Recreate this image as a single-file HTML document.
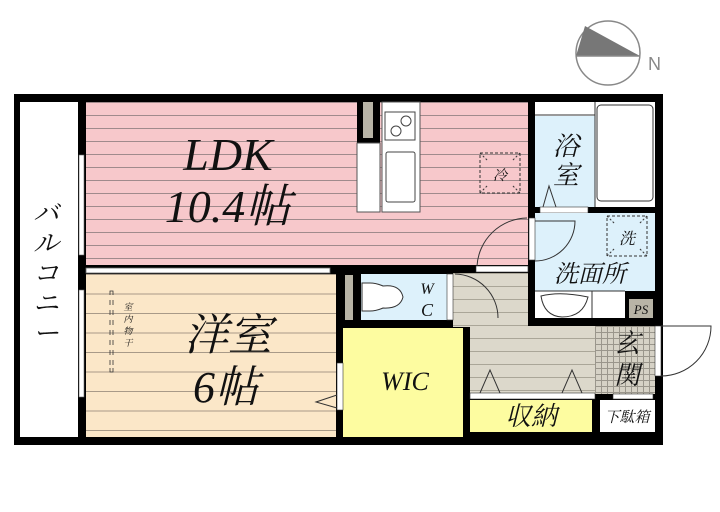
<!DOCTYPE html>
<html><head><meta charset="utf-8"><style>
html,body{margin:0;padding:0;background:#fff;}
svg{display:block;}
text{font-family:"Liberation Serif","Noto Serif CJK SC",serif;font-style:italic;fill:#111;}
</style></head><body>
<svg width="720" height="512" viewBox="0 0 720 512" xmlns="http://www.w3.org/2000/svg">
<defs>
<pattern id="ldk" x="0" y="102" width="10" height="13" patternUnits="userSpaceOnUse"><rect width="10" height="13" fill="#f7c8cb"/><line x1="0" y1="0.5" x2="10" y2="0.5" stroke="#a08a8c" stroke-width="1"/></pattern>
<pattern id="yo" x="0" y="274" width="10" height="19.5" patternUnits="userSpaceOnUse"><rect width="10" height="19.5" fill="#fbe7c8"/><line x1="0" y1="0.5" x2="10" y2="0.5" stroke="#a89a88" stroke-width="1"/></pattern>
<pattern id="hall" x="0" y="273" width="10" height="13" patternUnits="userSpaceOnUse"><rect width="10" height="13" fill="#dcd8cb"/><line x1="0" y1="0.5" x2="10" y2="0.5" stroke="#aaa698" stroke-width="1"/></pattern>
<pattern id="tile" x="595" y="326" width="6" height="6" patternUnits="userSpaceOnUse"><rect width="6" height="6" fill="#d6d2c6"/><path d="M0 0.5H6M0.5 0V6" stroke="#9a968c" stroke-width="1"/></pattern>
</defs>

<!-- compass -->
<circle cx="608" cy="53" r="32" fill="none" stroke="#888" stroke-width="1.5"/>
<polygon points="585,26 576,56 640,56" fill="#777"/>
<line x1="576" y1="56" x2="640" y2="56" stroke="#888" stroke-width="1.5"/>
<text x="648" y="70" style="font-style:normal;font-family:'Liberation Sans',sans-serif;fill:#888" font-size="18">N</text>

<!-- outer wall base -->
<rect x="14" y="94" width="649" height="351" fill="#000"/>
<!-- balcony -->
<rect x="20" y="102" width="58" height="335" fill="#fff"/>
<!-- LDK -->
<rect x="86" y="102" width="442" height="163" fill="url(#ldk)"/>
<!-- western room -->
<rect x="86" y="274" width="250" height="163" fill="url(#yo)"/>
<rect x="86" y="268" width="244" height="5" fill="#fff" stroke="#666" stroke-width="0.8"/>
<rect x="79" y="155" width="5" height="100" fill="#fff" stroke="#666" stroke-width="0.6"/>
<rect x="79" y="290" width="5" height="107" fill="#fff" stroke="#666" stroke-width="0.6"/>

<!-- kitchen -->
<rect x="357" y="102" width="23" height="41" fill="#000"/>
<rect x="363" y="102" width="10" height="36" fill="#b8b4a6"/>
<rect x="357" y="143" width="23" height="69" fill="#fff" stroke="#555" stroke-width="1"/>
<rect x="382" y="102" width="38" height="110" fill="#fff" stroke="#555" stroke-width="1"/>
<rect x="385" y="112" width="30" height="28" fill="#fff" stroke="#444" stroke-width="1"/>
<circle cx="406" cy="121" r="5" fill="none" stroke="#444"/>
<circle cx="396" cy="131" r="5" fill="none" stroke="#444"/>
<rect x="386" y="152" width="29" height="50" rx="2" fill="#fff" stroke="#444" stroke-width="1"/>
<!-- fridge -->
<rect x="480" y="153" width="40" height="40" fill="none" stroke="#333" stroke-dasharray="3,2"/>
<path d="M480 153l8 8M520 153l-8 8M480 193l8-8M520 193l-8-8" stroke="#333" stroke-dasharray="2,2"/>
<text x="500" y="180" font-size="14" text-anchor="middle">冷</text>

<!-- bath -->
<rect x="535" y="102" width="120" height="105" fill="#fff"/>
<rect x="535" y="116" width="60" height="91" fill="#ddf1fb"/>
<line x1="535" y1="115" x2="595" y2="115" stroke="#333"/>
<rect x="597" y="105" width="56" height="96" rx="4" fill="#fff" stroke="#333" stroke-width="1"/>
<line x1="595" y1="102" x2="595" y2="207" stroke="#333"/>
<rect x="540" y="207" width="48" height="6" fill="#fff" stroke="#333" stroke-width="0.6"/>
<polyline points="543,207 549,186 556,207" fill="none" stroke="#333"/>
<text x="566" y="155" font-size="26" text-anchor="middle">浴</text>
<text x="566" y="184" font-size="26" text-anchor="middle">室</text>

<!-- wash -->
<rect x="535" y="213" width="120" height="78" fill="#ddf1fb"/>
<rect x="535" y="291" width="90" height="27" fill="#fff"/>
<line x1="535" y1="291" x2="625" y2="291" stroke="#333"/>
<path d="M541 296 Q560 291 588 297 Q583 317 562 317 Q544 316 541 296Z" fill="#fff" stroke="#333"/>
<line x1="592" y1="291" x2="592" y2="318" stroke="#333"/>
<rect x="629" y="299" width="24" height="19" fill="#b8b4a6"/>
<text x="641" y="314" font-size="13" text-anchor="middle">PS</text>
<rect x="607" y="216" width="40" height="40" fill="none" stroke="#333" stroke-dasharray="3,2"/>
<path d="M607 216l8 8M647 216l-8 8M607 256l8-8M647 256l-8-8" stroke="#333" stroke-dasharray="2,2"/>
<text x="627" y="244" font-size="16" text-anchor="middle">洗</text>
<text x="590" y="282" font-size="24" text-anchor="middle">洗面所</text>
<rect x="529" y="218" width="6" height="42" fill="#fff" stroke="#333" stroke-width="0.6"/>
<path d="M535 221 H575 A40 40 0 0 1 535 261" fill="none" stroke="#333"/>

<!-- LDK door to hall -->
<rect x="476" y="266" width="52" height="6" fill="#fff" stroke="#333" stroke-width="0.6"/>
<path d="M477 266 A51 51 0 0 1 527 218" fill="none" stroke="#333"/>

<!-- hallway -->
<rect x="453" y="273" width="75" height="54" fill="url(#hall)"/>
<rect x="470" y="326" width="125" height="67" fill="url(#hall)"/>
<rect x="470" y="393" width="125" height="6" fill="#fff" stroke="#333" stroke-width="0.6"/>
<polyline points="480,393 490,370 500,393" fill="none" stroke="#333"/>
<polyline points="562,393 572,370 582,393" fill="none" stroke="#333"/>
<path d="M455 274 A44 44 0 0 1 498 318" fill="none" stroke="#333"/>

<!-- WC -->
<rect x="345" y="275" width="8" height="45" fill="#b8b4a6"/>
<rect x="361" y="274" width="86" height="46" fill="#ddf1fb"/>
<rect x="447" y="274" width="6" height="46" fill="#fff" stroke="#333" stroke-width="0.6"/>
<path d="M362 283 H370 Q376 283 383 286 Q400 284 403 297 Q400 309 383 308 Q376 311 370 311 H362 Z" fill="#fff" stroke="#333"/>
<text x="427" y="294" font-size="16" text-anchor="middle">W</text>
<text x="427" y="316" font-size="18" text-anchor="middle">C</text>

<!-- WIC -->
<rect x="343" y="328" width="120" height="109" fill="#fdfca0"/>
<rect x="337" y="363" width="6" height="47" fill="#fff" stroke="#333" stroke-width="0.6"/>
<polyline points="337,395 316,402 337,408" fill="none" stroke="#333"/>
<text x="405" y="390" font-size="26" text-anchor="middle">WIC</text>

<!-- storage -->
<rect x="470" y="400" width="122" height="32" fill="#fdfca0"/>
<text x="531" y="425" font-size="26" text-anchor="middle">収納</text>
<rect x="600" y="400" width="55" height="32" fill="#fff"/>
<text x="627" y="422" font-size="15" text-anchor="middle">下駄箱</text>

<!-- entrance -->
<rect x="595" y="326" width="60" height="68" fill="url(#tile)"/>
<rect x="613" y="394" width="40" height="5" fill="#fff" stroke="#333" stroke-width="0.6"/>
<text x="627" y="352" font-size="26" text-anchor="middle">玄</text>
<text x="627" y="384" font-size="26" text-anchor="middle">関</text>
<rect x="655" y="326" width="6" height="50" fill="#fff" stroke="#333" stroke-width="0.6"/>
<path d="M661 326 H711 A50 50 0 0 1 661 376" fill="none" stroke="#333"/>

<!-- room texts -->
<text x="228" y="170" font-size="46" text-anchor="middle">LDK</text>
<text x="228" y="222" font-size="46" text-anchor="middle">10.4帖</text>
<text x="228" y="350" font-size="44" text-anchor="middle">洋室</text>
<text x="226" y="402" font-size="44" text-anchor="middle">6帖</text>
<g stroke="#333" fill="none" stroke-width="0.8">
<path d="M110 295v-4h3v4"/>
<path d="M110 300v5M113 300v5M110 310v5M113 310v5M110 320v5M113 320v5M110 330v5M113 330v5M110 340v5M113 340v5M110 350v5M113 350v5M110 360v5M113 360v5"/>
<path d="M110 368v4h3v-4"/>
</g>
<text x="128" y="310" font-size="9" text-anchor="middle">室</text>
<text x="128" y="322" font-size="9" text-anchor="middle">内</text>
<text x="128" y="334" font-size="9" text-anchor="middle">物</text>
<text x="128" y="346" font-size="9" text-anchor="middle">干</text>
<g font-size="26" text-anchor="middle">
<text x="46" y="222">バ</text>
<text x="46" y="252">ル</text>
<text x="46" y="282">コ</text>
<text x="46" y="312">ニ</text>
<text x="46" y="342">ー</text>
</g>
</svg>
</body></html>
